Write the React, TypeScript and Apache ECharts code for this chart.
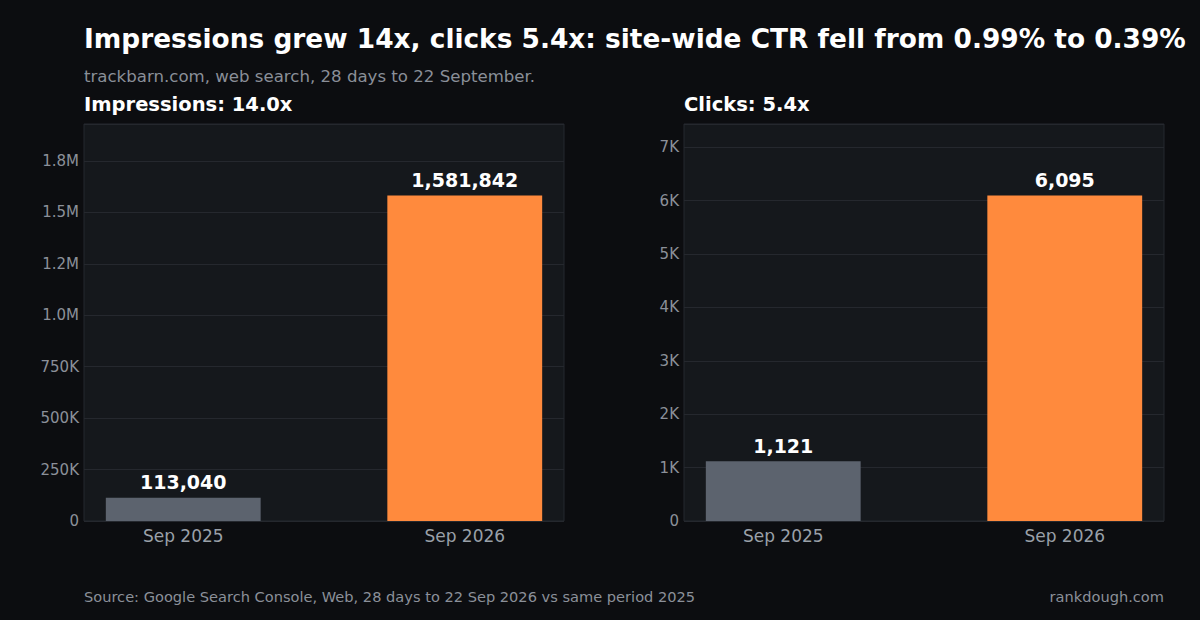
import React, { useEffect, useRef } from "react";
import * as echarts from "echarts";

const categories = ["Sep 2025", "Sep 2026"];
const impressions = [113040, 1581842];
const clicks = [1121, 6095];
const impTickLabels = ["0", "250K", "500K", "750K", "1.0M", "1.2M", "1.5M", "1.8M"];
const clickTickLabels = ["0", "1K", "2K", "3K", "4K", "5K", "6K", "7K"];
const impInterval = 250000;
const clickInterval = 1000;
const barColors = ["#5c636e", "#ff8a3d"];

const BG = "#0c0d10";
const PLOT_BG = "#15181c";
const GRID_LINE = "#25282e";
const FONT = "DejaVu Sans";
const BAR_W = 0.55;
const X_MIN = -BAR_W / 2 - (1 + BAR_W) * 0.05;
const X_MAX = 1 + BAR_W / 2 + (1 + BAR_W) * 0.05;

function fmtNum(v: number) {
  return v.toLocaleString("en-US");
}

export default function App() {
  const ref = useRef<HTMLDivElement>(null);
  useEffect(() => {
    document.body.style.margin = "0";
    document.body.style.background = BG;
    const chart = echarts.init(ref.current!, null, { renderer: "svg" });
    const impMax = Math.max(...impressions) * 1.22;
    const clickMax = Math.max(...clicks) * 1.22;
    const plotW = 480;
    const barPx = (BAR_W / (X_MAX - X_MIN)) * plotW;

    const yAx = (max: number, interval: number, labels: string[], gridIndex: number) => ({
      type: "value",
      gridIndex,
      min: 0,
      max,
      interval,
      axisLine: { show: false },
      axisTick: { show: false },
      splitLine: { show: true, lineStyle: { color: GRID_LINE, width: 1 } },
      axisLabel: {
        showMaxLabel: false,
        color: "#8b9099",
        fontFamily: FONT,
        fontSize: 15,
        margin: 5,
        formatter: (v: number) => labels[Math.round(v / interval)] ?? "",
      },
    });
    const xAx = (gridIndex: number) => ({
      type: "value",
      gridIndex,
      min: X_MIN,
      max: X_MAX,
      axisLine: { show: false },
      axisTick: { show: false },
      splitLine: { show: false },
      axisLabel: {
        customValues: [0, 1],
        color: "#9aa0a8",
        fontFamily: FONT,
        fontSize: 17,
        margin: 6,
        formatter: (v: number) => categories[Math.round(v)] ?? "",
      },
    });
    const barSeries = (data: number[], idx: number) => ({
      type: "bar",
      xAxisIndex: idx,
      yAxisIndex: idx,
      barWidth: barPx,
      data: data.map((v, i) => ({ value: [i, v], itemStyle: { color: barColors[i] } })),
      label: {
        show: true,
        position: "top",
        distance: 6,
        color: "#ffffff",
        fontFamily: FONT,
        fontSize: 19,
        fontWeight: "bold",
        formatter: (p: any) => fmtNum(p.value[1]),
      },
    });

    const txt = (x: number, y: number, text: string, size: number, color: string, bold = false, align = "left") => ({
      type: "text",
      x,
      y,
      style: {
        text,
        fill: color,
        font: `${bold ? "bold " : ""}${size}px ${FONT}`,
        textAlign: align,
        textVerticalAlign: "middle",
      },
    });

    const gridBase = { width: plotW, top: 124, height: 397, show: true, backgroundColor: PLOT_BG, borderColor: GRID_LINE, borderWidth: 1, containLabel: false };

    chart.setOption({
      animation: false,
      backgroundColor: BG,
      grid: [
        { ...gridBase, left: 84 },
        { ...gridBase, left: 684 },
      ],
      xAxis: [xAx(0), xAx(1)],
      yAxis: [yAx(impMax, impInterval, impTickLabels, 0), yAx(clickMax, clickInterval, clickTickLabels, 1)],
      series: [barSeries(impressions, 0), barSeries(clicks, 1)],
      graphic: [
        txt(84, 38, "Impressions grew 14x, clicks 5.4x: site-wide CTR fell from 0.99% to 0.39%", 26.4, "#ffffff", true),
        txt(84, 76, "trackbarn.com, web search, 28 days to 22 September.", 16.6, "#8a8f98"),
        txt(84, 104, "Impressions: 14.0x", 19.5, "#ffffff", true),
        txt(684, 104, "Clicks: 5.4x", 19.5, "#ffffff", true),
        txt(84, 596, "Source: Google Search Console, Web, 28 days to 22 Sep 2026 vs same period 2025", 14.6, "#8b9099"),
        txt(1164, 596, "rankdough.com", 14.6, "#8b9099", false, "right"),
      ],
    });
    return () => chart.dispose();
  }, []);
  return <div ref={ref} style={{ width: 1200, height: 620 }} />;
}
